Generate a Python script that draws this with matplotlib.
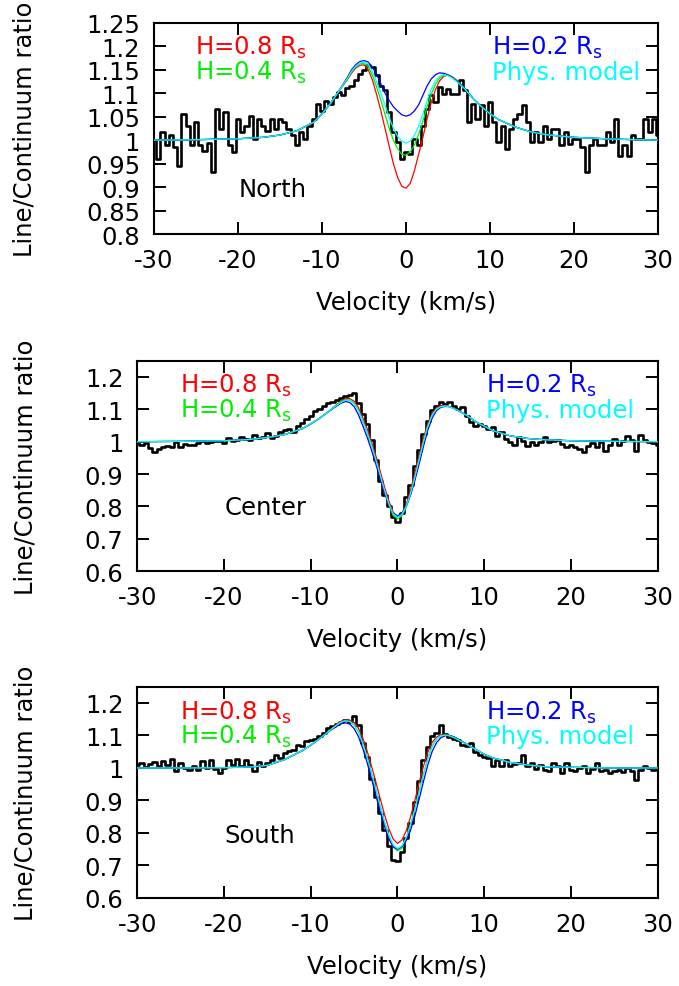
import numpy as np
import matplotlib
matplotlib.use('Agg')
import matplotlib.pyplot as plt
from matplotlib.ticker import FixedLocator, FuncFormatter

plt.rcParams['font.family'] = ['DejaVu Sans']
plt.rcParams['axes.unicode_minus'] = False
plt.rcParams['mathtext.default'] = 'regular'

# ---------------- observed spectra (0.5 km/s sampling) ----------------
velocity_obs = np.linspace(-30, 30, 121)

north_obs = [
    1.000, 0.960, 1.017, 0.989, 1.010, 0.985, 0.946, 1.056, 1.031, 0.989,
    1.038, 0.989, 0.978, 0.995, 0.932, 1.067, 1.024, 1.060, 0.989, 0.974,
    1.045, 1.017, 1.030, 1.052, 1.003, 1.045, 1.031, 1.020, 1.045, 1.024,
    1.045, 1.038, 1.024, 1.010, 0.989, 1.017, 1.003, 1.031, 1.045, 1.077,
    1.063, 1.084, 1.077, 1.091, 1.102, 1.095, 1.110, 1.116, 1.127, 1.141,
    1.150, 1.159, 1.155, 1.138, 1.116, 1.106, 1.060, 1.017, 0.996, 0.960,
    0.974, 0.971, 1.003, 0.989, 1.031, 1.067, 1.095, 1.081, 1.113, 1.099,
    1.109, 1.099, 1.099, 1.127, 1.106, 1.038, 1.077, 1.045, 1.074, 1.031,
    1.081, 1.038, 0.996, 1.031, 0.982, 1.024, 1.045, 1.056, 1.074, 1.038,
    0.996, 1.017, 0.996, 1.031, 1.003, 1.024, 1.024, 0.989, 1.017, 0.992,
    1.003, 1.003, 0.985, 0.932, 0.989, 1.003, 0.989, 0.989, 1.017, 0.996,
    1.045, 0.967, 0.989, 0.967, 1.010, 1.003, 1.003, 1.045, 1.017, 1.045,
    1.010]

center_obs = [
    0.998, 0.991, 0.995, 0.981, 0.967, 0.978, 0.983, 0.988, 0.985, 0.998,
    0.985, 0.993, 0.990, 0.991, 0.997, 1.001, 0.995, 0.998, 1.003, 1.001,
    0.997, 1.010, 1.003, 1.006, 1.013, 1.008, 1.005, 1.022, 1.010, 1.013,
    1.026, 1.012, 1.018, 1.029, 1.035, 1.039, 1.029, 1.050, 1.059, 1.069,
    1.080, 1.095, 1.100, 1.110, 1.118, 1.124, 1.128, 1.136, 1.140, 1.145,
    1.149, 1.120, 1.085, 1.054, 1.005, 0.945, 0.880, 0.835, 0.800, 0.767,
    0.752, 0.780, 0.830, 0.865, 0.925, 0.975, 1.025, 1.065, 1.098, 1.111,
    1.124, 1.115, 1.121, 1.110, 1.101, 1.106, 1.080, 1.062, 1.049, 1.055,
    1.050, 1.039, 1.044, 1.018, 1.029, 1.008, 1.000, 0.991, 1.013, 1.003,
    0.988, 0.998, 0.991, 0.998, 1.013, 0.998, 1.002, 1.005, 0.993, 0.983,
    0.991, 0.985, 0.977, 0.967, 0.988, 0.995, 0.983, 0.998, 0.972, 0.990,
    1.008, 0.991, 1.003, 1.018, 1.005, 0.972, 1.021, 1.005, 0.998, 0.995,
    0.991]

south_obs = [
    1.010, 1.015, 1.003, 1.012, 1.017, 1.005, 1.021, 1.010, 1.028, 0.990,
    1.015, 1.000, 0.993, 1.005, 0.995, 1.021, 1.000, 1.026, 0.998, 0.985,
    1.000, 1.026, 1.010, 1.028, 1.005, 1.024, 1.010, 0.990, 1.017, 1.007,
    1.015, 1.026, 1.041, 1.030, 1.045, 1.051, 1.056, 1.072, 1.067, 1.082,
    1.085, 1.090, 1.097, 1.108, 1.123, 1.128, 1.136, 1.141, 1.147, 1.141,
    1.159, 1.133, 1.077, 1.035, 0.965, 0.910, 0.860, 0.810, 0.760, 0.718,
    0.713, 0.740, 0.785, 0.830, 0.895, 0.960, 1.025, 1.065, 1.097, 1.108,
    1.133, 1.105, 1.095, 1.090, 1.085, 1.072, 1.067, 1.077, 1.050, 1.041,
    1.035, 1.031, 1.007, 1.024, 1.005, 1.026, 1.007, 1.012, 1.015, 1.041,
    1.005, 1.015, 0.997, 1.010, 0.995, 0.990, 1.015, 1.005, 0.985, 1.015,
    0.993, 0.990, 1.000, 1.005, 0.985, 0.997, 1.015, 0.990, 0.993, 0.985,
    0.990, 0.995, 0.987, 1.000, 0.990, 0.964, 0.995, 1.007, 1.000, 0.993,
    1.000]

# ---------------- model curves ----------------
velocity_model = [-30, -25, -20, -17, -15, -13, -11, -10, -9, -8,
                  -7, -6.5, -6, -5.5, -5, -4.5, -4, -3.5, -3, -2.5, -2, -1.5, -1, -0.5,
                  0, 0.5, 1, 1.5, 2, 2.5, 3, 3.5, 4, 4.5, 5, 5.5, 6, 6.5, 7,
                  8, 9, 10, 11, 13, 15, 17, 20, 25, 30]

# Physical model (full range)
north_phys = [1.000, 1.001, 1.003, 1.006, 1.011, 1.020, 1.038, 1.056, 1.078, 1.104,
              1.131, 1.146, 1.157, 1.164, 1.166, 1.161, 1.146, 1.124, 1.100, 1.075,
              1.048, 1.025, 1.008, 0.998, 0.994, 0.998, 1.010, 1.030, 1.055, 1.083,
              1.108, 1.126, 1.136, 1.139, 1.137, 1.132, 1.125, 1.117, 1.109,
              1.088, 1.071, 1.056, 1.044, 1.028, 1.017, 1.011, 1.006, 1.002, 1.000]
center_phys = [1.000, 1.001, 1.003, 1.007, 1.013, 1.022, 1.040, 1.055, 1.072, 1.092,
               1.112, 1.122, 1.128, 1.127, 1.117, 1.095, 1.062, 1.028, 0.988, 0.944,
               0.897, 0.850, 0.808, 0.778, 0.766, 0.775, 0.800, 0.840, 0.890, 0.945,
               1.000, 1.048, 1.082, 1.101, 1.108, 1.110, 1.108, 1.102, 1.096,
               1.081, 1.062, 1.048, 1.034, 1.018, 1.010, 1.006, 1.003, 1.001, 1.000]
south_phys = [1.000, 1.000, 1.001, 1.003, 1.008, 1.026, 1.053, 1.070, 1.090, 1.111,
              1.132, 1.141, 1.145, 1.143, 1.133, 1.112, 1.075, 1.032, 0.985, 0.935,
              0.884, 0.836, 0.794, 0.764, 0.752, 0.760, 0.786, 0.828, 0.873, 0.928,
              0.982, 1.030, 1.068, 1.090, 1.099, 1.101, 1.099, 1.094, 1.087,
              1.073, 1.057, 1.042, 1.031, 1.017, 1.009, 1.004, 1.002, 1.000, 1.000]

# H-models, line core (-7 .. 7 km/s); wings follow the physical model
north_h08_core = [1.128, 1.142, 1.153, 1.159, 1.160, 1.150, 1.128, 1.097, 1.063, 1.025,
                  0.987, 0.950, 0.921, 0.902, 0.898, 0.908, 0.935, 0.970, 1.005, 1.045,
                  1.080, 1.107, 1.126, 1.136, 1.138, 1.135, 1.128, 1.119, 1.110]
north_h04_core = [1.130, 1.145, 1.156, 1.162, 1.163, 1.156, 1.138, 1.113, 1.085, 1.055,
                  1.025, 1.000, 0.982, 0.970, 0.968, 0.975, 0.990, 1.012, 1.040, 1.070,
                  1.097, 1.118, 1.132, 1.138, 1.138, 1.134, 1.127, 1.118, 1.110]
north_h02_core = [1.133, 1.149, 1.160, 1.167, 1.169, 1.166, 1.155, 1.140, 1.120, 1.100,
                  1.084, 1.071, 1.062, 1.054, 1.051, 1.054, 1.062, 1.075, 1.095, 1.115,
                  1.130, 1.139, 1.143, 1.142, 1.139, 1.133, 1.126, 1.118, 1.110]

center_h08_core = [1.115, 1.126, 1.133, 1.133, 1.125, 1.105, 1.074, 1.040, 1.001, 0.957,
                   0.909, 0.861, 0.817, 0.783, 0.768, 0.777, 0.806, 0.850, 0.903, 0.958,
                   1.012, 1.057, 1.088, 1.105, 1.111, 1.112, 1.109, 1.103, 1.096]
center_h04_core = [1.113, 1.124, 1.130, 1.129, 1.119, 1.097, 1.064, 1.029, 0.988, 0.943,
                   0.895, 0.847, 0.804, 0.773, 0.762, 0.771, 0.797, 0.838, 0.889, 0.945,
                   1.000, 1.048, 1.082, 1.101, 1.108, 1.110, 1.108, 1.102, 1.096]
center_h02_core = [1.110, 1.119, 1.124, 1.121, 1.108, 1.083, 1.049, 1.014, 0.974, 0.931,
                   0.886, 0.842, 0.805, 0.779, 0.771, 0.779, 0.800, 0.835, 0.880, 0.932,
                   0.986, 1.036, 1.073, 1.096, 1.106, 1.109, 1.108, 1.103, 1.096]

south_h08_core = [1.135, 1.144, 1.148, 1.147, 1.140, 1.122, 1.092, 1.052, 1.006, 0.957,
                  0.906, 0.857, 0.813, 0.781, 0.768, 0.778, 0.806, 0.849, 0.900, 0.955,
                  1.006, 1.049, 1.079, 1.095, 1.102, 1.103, 1.100, 1.095, 1.088]
south_h04_core = [1.132, 1.141, 1.145, 1.143, 1.132, 1.110, 1.076, 1.033, 0.985, 0.934,
                  0.882, 0.832, 0.789, 0.758, 0.745, 0.753, 0.780, 0.822, 0.872, 0.928,
                  0.982, 1.030, 1.067, 1.089, 1.099, 1.101, 1.099, 1.094, 1.087]
south_h02_core = [1.128, 1.136, 1.139, 1.135, 1.121, 1.096, 1.060, 1.016, 0.967, 0.916,
                  0.866, 0.820, 0.782, 0.757, 0.750, 0.758, 0.776, 0.808, 0.852, 0.905,
                  0.959, 1.010, 1.051, 1.078, 1.093, 1.099, 1.100, 1.096, 1.089]

region_names = ['North', 'Center', 'South']
legend_labels = [r'H=0.8 R$_{s}$', r'H=0.4 R$_{s}$', r'H=0.2 R$_{s}$', 'Phys. model']
north_yticks = [0.8, 0.85, 0.9, 0.95, 1.0, 1.05, 1.1, 1.15, 1.2, 1.25]
wide_yticks = [0.6, 0.7, 0.8, 0.9, 1.0, 1.1, 1.2]
xticks = [-30, -20, -10, 0, 10, 20, 30]


def full(core, phys):
    return list(phys[:10]) + list(core) + list(phys[39:])


panels = [
    dict(name=region_names[0], obs=north_obs, phys=north_phys,
         cores=[north_h08_core, north_h04_core, north_h02_core],
         ylim=(0.8, 1.25), yticks=north_yticks, name_y=0.214,
         rect=[154 / 679, 1 - 235.3 / 987, 504 / 679, 211.8 / 987]),
    dict(name=region_names[1], obs=center_obs, phys=center_phys,
         cores=[center_h08_core, center_h04_core, center_h02_core],
         ylim=(0.6, 1.25), yticks=wide_yticks, name_y=0.303,
         rect=[137.3 / 679, 1 - 572.3 / 987, 520.4 / 679, 210.6 / 987]),
    dict(name=region_names[2], obs=south_obs, phys=south_phys,
         cores=[south_h08_core, south_h04_core, south_h02_core],
         ylim=(0.6, 1.25), yticks=wide_yticks, name_y=0.298,
         rect=[137.3 / 679, 1 - 899.0 / 987, 520.4 / 679, 211.3 / 987]),
]

model_colors = ['#ff0000', '#00ee00', '#0000ff', '#00ffff']
FS = 17.5

fig = plt.figure(figsize=(6.79, 9.87), dpi=100)

for p in panels:
    ax = fig.add_axes(p['rect'])
    ax.plot(velocity_obs, p['obs'], color='black', lw=1.9, zorder=2,
            drawstyle='steps-mid')
    for core, col in zip(p['cores'], model_colors[:3]):
        ax.plot(velocity_model, full(core, p['phys']), color=col, lw=0.9, zorder=3)
    ax.plot(velocity_model, p['phys'], color=model_colors[3], lw=0.9, zorder=4)

    ax.set_xlim(-30, 30)
    ax.set_ylim(*p['ylim'])
    ax.xaxis.set_major_locator(FixedLocator(xticks))
    ax.yaxis.set_major_locator(FixedLocator(p['yticks']))
    ax.xaxis.set_major_formatter(FuncFormatter(lambda v, pos: f'{v:g}'))
    ax.yaxis.set_major_formatter(FuncFormatter(lambda v, pos: f'{v:g}'))
    ax.tick_params(direction='in', length=8.5, width=1.4, top=True, right=True,
                   labelsize=FS, pad=10)
    for s in ax.spines.values():
        s.set_linewidth(1.5)

    ax.set_xlabel('Velocity (km/s)', fontsize=FS, va='center')
    ax.xaxis.set_label_coords(0.5, -0.322)
    ax.set_ylabel('Line/Continuum ratio', fontsize=FS, va='center')
    ax.yaxis.set_label_coords((25 - p['rect'][0] * 679) / (p['rect'][2] * 679), 0.5)

    # legend-like labels (axes fraction positions)
    ax.text(0.082, 0.85, legend_labels[0], color=model_colors[0], fontsize=FS,
            transform=ax.transAxes, va='baseline')
    ax.text(0.082, 0.735, legend_labels[1], color=model_colors[1], fontsize=FS,
            transform=ax.transAxes, va='baseline')
    ax.text(0.67, 0.85, legend_labels[2], color=model_colors[2], fontsize=FS,
            transform=ax.transAxes, va='baseline')
    ax.text(0.67, 0.735, legend_labels[3], color=model_colors[3], fontsize=FS,
            transform=ax.transAxes, va='baseline')
    ax.text(0.168, p['name_y'], p['name'], color='black', fontsize=FS,
            transform=ax.transAxes, va='center')

fig.savefig('out.png', dpi=100)
